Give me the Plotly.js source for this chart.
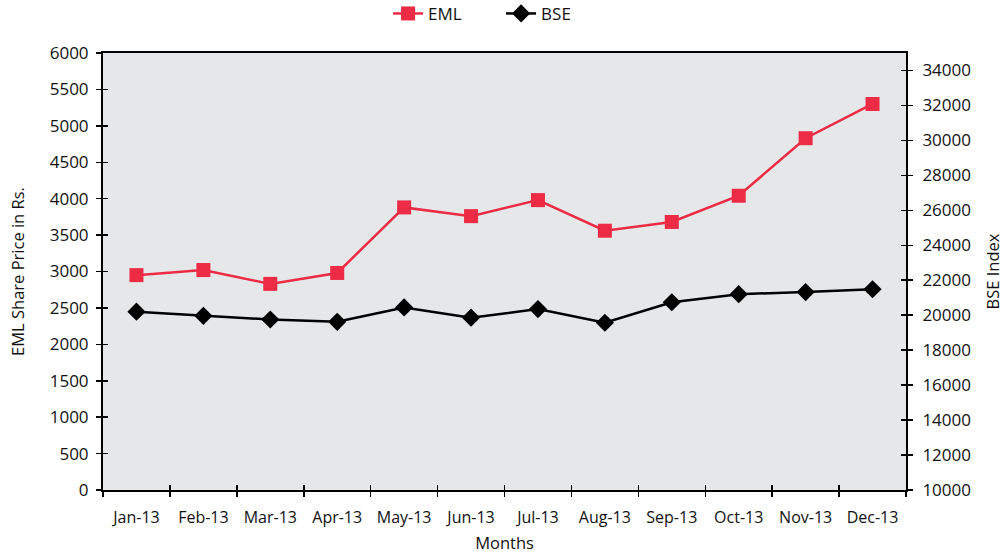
<!DOCTYPE html>
<html>
<head>
<meta charset="utf-8">
<script src="https://cdn.plot.ly/plotly-3.0.1.min.js"></script>
<style>html,body{margin:0;padding:0;background:#fff}#chart{width:1008px;height:556px}</style>
</head>
<body>
<div id="chart"></div>
<script>
const months = ["Jan-13","Feb-13","Mar-13","Apr-13","May-13","Jun-13","Jul-13","Aug-13","Sep-13","Oct-13","Nov-13","Dec-13"];
const emlValues = [2950, 3020, 2830, 2980, 3880, 3760, 3980, 3560, 3680, 4040, 4830, 5300];
const bseValues = [20203, 19966, 19755, 19623, 20443, 19860, 20351, 19569, 20740, 21205, 21321, 21484];
const leftTicks = [0,500,1000,1500,2000,2500,3000,3500,4000,4500,5000,5500,6000];
const rightTicks = [10000,12000,14000,16000,18000,20000,22000,24000,26000,28000,30000,32000,34000];

const FONT = "Open Sans, Lato, sans-serif";
const red = "#ee2b45";

const traces = [
  {x: months, y: emlValues, name: "EML", type: "scatter", mode: "lines+markers",
   line: {color: red, width: 2.5}, marker: {symbol: "square", size: 14, color: red}, yaxis: "y"},
  {x: months, y: bseValues, name: "BSE", type: "scatter", mode: "lines+markers",
   line: {color: "#000", width: 2.5}, marker: {symbol: "diamond", size: 14, color: "#000"}, yaxis: "y2"}
];

const layout = {
  width: 1008, height: 556,
  margin: {l: 103, r: 102, t: 53, b: 66, autoexpand: false},
  paper_bgcolor: "#fff", plot_bgcolor: "#e6e7e8",
  font: {family: FONT, size: 17, color: "#111"},
  showlegend: true,
  legend: {orientation: "h", xref: "container", yref: "container", x: 0.385, xanchor: "left", y: 0.975, yanchor: "middle",
           font: {size: 17, color: "#111"}, tracegroupgap: 0, entrywidth: 68, entrywidthmode: "pixels"},
  xaxis: {type: "category", range: [-0.5, 11.5], showgrid: false, zeroline: false,
          showline: true, linecolor: "#000", linewidth: 2, mirror: true,
          ticks: "outside", ticklen: 5, tickwidth: 1.5, tickcolor: "#000", tickson: "boundaries",
          ticklabelstandoff: 12,
          tickfont: {size: 16}, title: {text: "Months", font: {size: 16.5}, standoff: 10}},
  yaxis: {range: [0, 6000], tickvals: leftTicks, ticktext: leftTicks.map(String), showgrid: false, zeroline: false,
          showline: true, linecolor: "#000", linewidth: 2,
          ticks: "outside", ticklen: 5, tickwidth: 1.5, tickcolor: "#000", ticklabelstandoff: 4,
          tickfont: {size: 17}, title: {text: "EML Share Price in Rs.", font: {size: 16.5}, standoff: 21}},
  yaxis2: {range: [10000, 35000], tickvals: rightTicks, ticktext: rightTicks.map(String), overlaying: "y", side: "right",
           showgrid: false, zeroline: false, showline: true, linecolor: "#000", linewidth: 2,
           ticks: "outside", ticklen: 5, tickwidth: 1.5, tickcolor: "#000", ticklabelstandoff: 6,
           tickfont: {size: 17}, title: {text: "BSE Index", font: {size: 16.5}, standoff: 17}},
  xaxis3: {type: "category", range: [-0.5, 11.5], overlaying: "x", anchor: "y", showgrid: false, zeroline: false,
           ticks: "inside", ticklen: 5, tickwidth: 1.5, tickcolor: "#000", tickson: "boundaries", showticklabels: false,
           categoryarray: months},
  yaxis3: {range: [0, 6000], tickvals: leftTicks, overlaying: "y", anchor: "x", showgrid: false, zeroline: false,
           ticks: "inside", ticklen: 5, tickwidth: 1.5, tickcolor: "#000", showticklabels: false},
  yaxis4: {range: [10000, 35000], tickvals: rightTicks, overlaying: "y", side: "right", anchor: "x", showgrid: false, zeroline: false,
           ticks: "inside", ticklen: 5, tickwidth: 1.5, tickcolor: "#000", showticklabels: false}
};

const helpers = [
  {x: months, y: emlValues, xaxis: "x3", yaxis: "y3", type: "scatter", mode: "none", showlegend: false, hoverinfo: "skip"},
  {x: months, y: bseValues, xaxis: "x", yaxis: "y4", type: "scatter", mode: "none", showlegend: false, hoverinfo: "skip"}
];

Plotly.newPlot("chart", helpers.concat(traces), layout, {staticPlot: true});
</script>
</body>
</html>
